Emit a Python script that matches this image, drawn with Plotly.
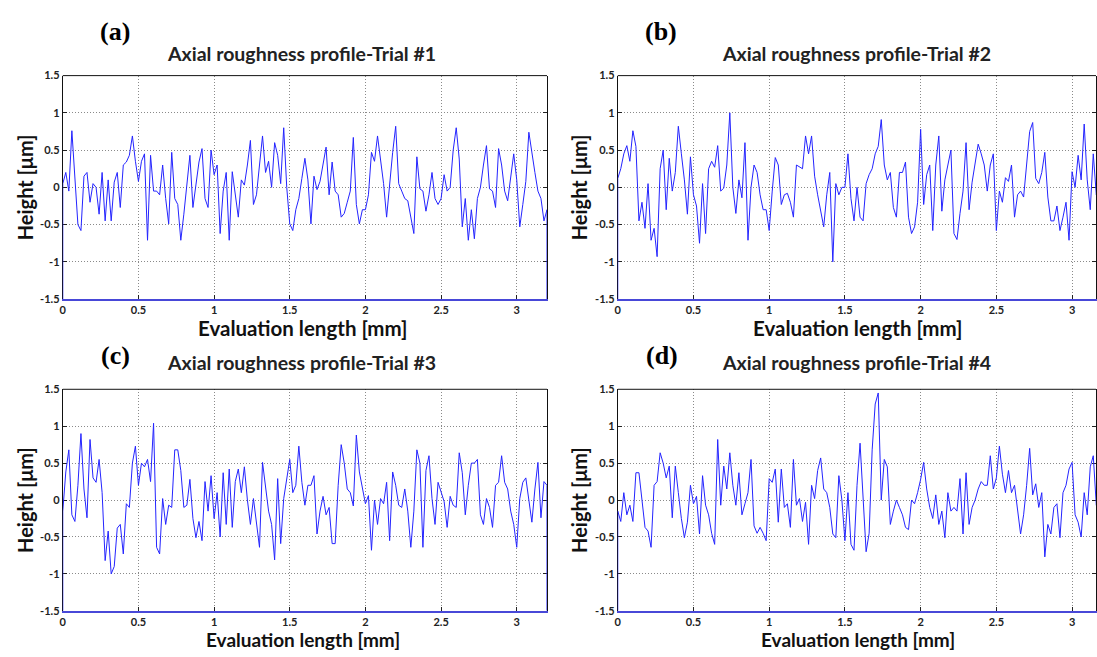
import numpy as np
import plotly.graph_objects as go

# Sampling grid of the profile (mm)
length_mm = np.round(np.arange(161) * 0.02, 2)

# Height values [um], one per 0.02 mm
trial1 = [0.05, 0.2, -0.05, 0.76, 0.17, -0.5, -0.58, 0.15, 0.2, -0.2,
          0.05, 0.0, -0.36, 0.2, -0.45, 0.1, -0.45, 0.07, 0.2, -0.27,
          0.3, 0.34, 0.43, 0.69, 0.35, 0.08, 0.35, 0.45, -0.71, 0.43,
          -0.05, -0.05, -0.1, 0.3, -0.15, -0.49, 0.47, -0.15, -0.23, -0.71,
          -0.36, 0.08, 0.43, -0.27, 0.05, 0.34, 0.52, -0.15, -0.27, 0.5,
          0.17, 0.3, -0.62, -0.05, 0.2, -0.71, 0.21, -0.1, -0.4, 0.1,
          0.03, 0.3, 0.63, -0.23, -0.1, 0.3, 0.69, 0.2, 0.35, 0.0,
          0.6, 0.43, 0.05, 0.8, 0.0, -0.49, -0.58, -0.3, -0.15, 0.12,
          0.39, 0.1, -0.49, 0.15, -0.03, 0.08, 0.3, 0.54, -0.1, 0.34,
          -0.05, -0.1, -0.4, -0.35, -0.2, -0.05, 0.67, -0.23, -0.49, -0.3,
          -0.3, -0.1, 0.47, 0.35, 0.69, 0.4, 0.05, -0.4, 0.08, 0.47,
          0.82, 0.05, -0.05, -0.15, -0.18, -0.4, -0.62, 0.41, -0.02, -0.05,
          -0.32, -0.1, 0.2, -0.15, -0.23, -0.15, 0.17, -0.05, 0.0, 0.5,
          0.8, 0.38, -0.53, -0.15, -0.71, -0.3, -0.69, -0.15, 0.0, 0.3,
          0.56, -0.02, -0.05, -0.27, 0.52, 0.3, -0.05, -0.18, 0.17, 0.45,
          0.1, -0.53, -0.23, 0.08, 0.74, 0.45, 0.2, -0.05, -0.15, -0.45,
          -0.3]

trial2 = [0.12, 0.25, 0.45, 0.56, 0.35, 0.76, 0.55, -0.45, -0.2, -0.55,
          0.05, -0.71, -0.55, -0.93, 0.25, 0.5, -0.3, 0.39, -0.05, 0.2,
          0.82, 0.45, 0.1, -0.36, 0.41, -0.1, -0.25, -0.75, 0.05, -0.62,
          0.25, 0.35, 0.27, 0.56, -0.05, -0.01, 0.3, 1.0, 0.0, -0.35,
          0.1, -0.14, 0.6, -0.71, 0.0, 0.3, 0.2, -0.1, -0.3, -0.3,
          -0.58, -0.05, 0.4, 0.3, -0.23, -0.1, -0.08, -0.2, -0.4, 0.3,
          0.27, 0.25, 0.69, 0.45, 0.69, 0.15, -0.1, -0.3, -0.53, -0.1,
          0.2, -1.0, 0.05, -0.1, 0.0, 0.0, 0.45, -0.15, -0.45, 0.0,
          -0.4, -0.45, 0.05, 0.17, 0.25, 0.45, 0.55, 0.91, 0.3, 0.1,
          0.2, -0.27, -0.4, 0.2, 0.2, 0.34, -0.4, -0.62, -0.53, -0.2,
          0.78, -0.23, 0.17, 0.3, -0.58, 0.3, 0.69, -0.32, 0.1, 0.3,
          0.5, -0.62, -0.7, -0.35, -0.05, 0.6, -0.3, 0.07, 0.35, 0.58,
          0.45, 0.3, -0.05, 0.3, 0.45, -0.58, -0.05, -0.2, 0.13, 0.08,
          0.3, -0.4, -0.1, -0.05, -0.13, 0.3, 0.75, 0.87, 0.12, 0.05,
          0.2, 0.47, -0.13, -0.45, -0.45, -0.25, -0.58, -0.4, -0.2, -0.71,
          0.21, 0.0, 0.43, 0.1, 0.85, 0.1, -0.3, 0.45, -0.1, 0.1,
          0.05]

trial3 = [-0.15, 0.38, 0.68, -0.2, -0.29, 0.2, 0.9, 0.15, -0.24, 0.82,
          0.3, 0.24, 0.55, 0.1, -0.82, -0.42, -1.0, -0.9, -0.38, -0.33,
          -0.73, -0.05, -0.1, 0.5, 0.73, 0.2, 0.5, 0.45, 0.55, 0.25,
          1.04, -0.64, -0.73, 0.02, -0.33, -0.07, -0.1, 0.68, 0.68, 0.4,
          -0.1, -0.07, 0.28, -0.25, -0.51, -0.29, -0.55, 0.25, -0.15, 0.33,
          -0.25, 0.1, -0.5, 0.37, -0.33, 0.42, -0.37, 0.25, 0.42, 0.1,
          0.45, 0.0, -0.33, 0.02, -0.3, -0.64, 0.51, 0.2, -0.15, -0.33,
          -0.81, 0.29, -0.59, 0.02, 0.3, 0.55, 0.1, 0.2, 0.73, 0.24,
          -0.07, 0.2, 0.2, 0.33, -0.46, -0.15, 0.05, -0.2, -0.1, -0.59,
          -0.59, 0.2, 0.75, 0.5, 0.15, 0.1, -0.08, 0.88, 0.38, 0.17,
          -0.05, 0.06, -0.68, 0.0, -0.33, 0.02, -0.05, 0.24, -0.55, 0.38,
          0.2, -0.07, -0.1, 0.15, -0.15, -0.64, -0.15, 0.68, 0.5, -0.64,
          0.4, 0.6, 0.02, -0.33, 0.24, 0.11, -0.02, -0.37, 0.05, -0.07,
          -0.1, 0.64, 0.37, -0.2, 0.2, 0.5, 0.5, 0.55, -0.2, -0.33,
          0.02, -0.1, -0.37, 0.2, 0.24, 0.6, 0.24, 0.15, -0.15, -0.33,
          -0.64, 0.02, 0.24, 0.3, 0.0, -0.3, 0.15, 0.51, -0.24, 0.25,
          0.2]

trial4 = [-0.15, -0.29, 0.1, -0.2, -0.07, -0.29, 0.37, 0.37, -0.02, -0.37,
          -0.42, -0.64, 0.2, 0.25, 0.64, 0.5, 0.3, 0.46, -0.24, 0.46,
          0.1, -0.25, -0.51, -0.3, 0.2, -0.05, 0.05, -0.46, 0.33, -0.07,
          -0.2, -0.45, -0.6, 0.82, -0.07, 0.46, 0.15, 0.64, 0.2, -0.07,
          0.37, -0.2, -0.05, 0.1, 0.55, -0.35, -0.45, -0.37, -0.45, -0.55,
          0.29, 0.24, 0.42, -0.3, 0.42, -0.1, -0.05, -0.37, 0.55, -0.07,
          0.02, -0.29, -0.03, -0.6, 0.2, 0.02, 0.4, 0.57, 0.15, 0.1,
          -0.1, -0.46, -0.51, 0.33, 0.0, -0.55, 0.1, -0.6, -0.68, 0.2,
          0.77, 0.0, -0.7, -0.45, 0.68, 1.3, 1.45, 0.0, 0.55, 0.45,
          -0.33, -0.15, 0.0, -0.1, -0.2, -0.37, -0.4, 0.0, -0.05, 0.1,
          0.28, 0.51, 0.15, -0.1, -0.25, 0.07, -0.33, -0.15, -0.51, 0.1,
          -0.15, -0.1, -0.15, 0.29, -0.46, 0.37, -0.33, -0.1, 0.0, 0.15,
          0.25, 0.2, 0.2, 0.6, 0.15, 0.3, 0.73, 0.35, 0.1, 0.4,
          0.1, 0.2, -0.15, -0.46, -0.2, 0.2, 0.7, 0.07, 0.22, -0.1,
          0.1, -0.77, -0.33, -0.46, -0.1, -0.05, -0.51, 0.1, 0.2, 0.42,
          0.51, -0.2, -0.3, -0.5, 0.1, -0.2, 0.45, 0.6, -0.07, 0.1,
          0.05]

titles = ["Axial roughness profile-Trial #1", "Axial roughness profile-Trial #2",
          "Axial roughness profile-Trial #3", "Axial roughness profile-Trial #4"]
letters = ["(a)", "(b)", "(c)", "(d)"]
x_ticks = [0, 0.5, 1, 1.5, 2, 2.5, 3]
x_tick_text = ["<b>0</b>", "<b>0.5</b>", "<b>1</b>", "<b>1.5</b>", "<b>2</b>", "<b>2.5</b>", "<b>3</b>"]
y_ticks = [-1.5, -1, -0.5, 0, 0.5, 1, 1.5]
y_tick_text = ["<b>-1.5</b>", "<b>-1</b>", "<b>-0.5</b>", "<b>0</b>", "<b>0.5</b>", "<b>1</b>", "<b>1.5</b>"]
x_title = "Evaluation length [mm]"
y_title = "Height [\u03bcm]"

W, H = 1097, 657


def px(x):
    return x / W


def py(y):
    return 1 - y / H


# plot areas in pixels: (left, right, top, bottom), visible x end
areas = [(60, 546, 70, 298, 3.2), (617, 1097, 70, 298, 3.158),
         (60, 546, 390, 616, 3.2), (617, 1097, 390, 616, 3.158)]
series = [trial1, trial2, trial3, trial4]

fig = go.Figure()
BLUE = "#2424ff"
tick_font = dict(family="Lato, Open Sans, sans-serif", size=11, color="#222")

for i, (vals, area) in enumerate(zip(series, areas)):
    l, r, t, b, xend = area
    n = "" if i == 0 else str(i + 1)
    xs = [0.0] + list(length_mm) + [3.2]
    ys = [-1.5] + list(vals) + [-1.5]
    fig.add_trace(go.Scatter(x=xs, y=ys, mode="lines",
                             line=dict(color=BLUE, width=1),
                             xaxis="x" + n, yaxis="y" + n,
                             hoverinfo="skip", showlegend=False))
    fig.layout["xaxis" + n] = dict(
        domain=[px(l), min(px(r), 1.0)], anchor="y" + n, range=[0, xend],
        tickvals=x_ticks, ticktext=x_tick_text, ticks="inside", ticklen=4,
        tickcolor="#222", showline=True, linecolor="#4848d8", linewidth=2,
        mirror=False, showgrid=True, gridcolor="#8a8a8a", griddash="1px,2px",
        gridwidth=1, zeroline=False, tickfont=tick_font, layer="below traces")
    fig.layout["yaxis" + n] = dict(
        domain=[py(b), py(t)], anchor="x" + n, range=[-1.5, 1.5],
        tickvals=y_ticks, ticktext=y_tick_text, ticks="inside", ticklen=4,
        tickcolor="#222", showline=True, linecolor="#111", linewidth=1,
        mirror="ticks", showgrid=True, gridcolor="#8a8a8a", griddash="1px,2px",
        gridwidth=1, zeroline=False, tickfont=tick_font, layer="below traces")
    # top frame line
    fig.add_shape(type="line", xref="x" + n + " domain", yref="y" + n + " domain",
                  x0=0, x1=1, y0=1, y1=1, line=dict(color="#111", width=1))

# text positions (pixels)
title_pos = [(300, 47), (857, 47), (300, 363), (857, 363)]
letter_pos = [(112, 25), (660, 25), (113, 356), (661, 356)]
ytitle_pos = [(22, 184), (578, 184), (22, 503), (578, 503)]
xtitle_pos = [(301, 327), (858, 327), (301, 645), (858, 645)]
xtitle_size = [20.5, 20.5, 19, 19]

sans = "Lato, Open Sans, sans-serif"
for i in range(4):
    fig.add_annotation(x=px(title_pos[i][0]), y=py(title_pos[i][1]), xref="paper", yref="paper",
                       text="<b>" + titles[i] + "</b>", showarrow=False,
                       font=dict(family=sans, size=19.5, color="#222"),
                       xanchor="center", yanchor="middle")
    fig.add_annotation(x=px(letter_pos[i][0]), y=py(letter_pos[i][1]), xref="paper", yref="paper",
                       text="<b>" + letters[i] + "</b>", showarrow=False,
                       font=dict(family="Liberation Serif, serif", size=26, color="#000"),
                       xanchor="center", yanchor="middle")
    fig.add_annotation(x=px(ytitle_pos[i][0]), y=py(ytitle_pos[i][1]), xref="paper", yref="paper",
                       text="<b>" + y_title + "</b>", showarrow=False, textangle=-90,
                       font=dict(family=sans, size=20, color="#111"),
                       xanchor="center", yanchor="middle")
    fig.add_annotation(x=px(xtitle_pos[i][0]), y=py(xtitle_pos[i][1]), xref="paper", yref="paper",
                       text="<b>" + x_title + "</b>", showarrow=False,
                       font=dict(family=sans, size=xtitle_size[i], color="#111"),
                       xanchor="center", yanchor="middle")

fig.update_layout(width=W, height=H, margin=dict(l=0, r=0, t=0, b=0),
                  paper_bgcolor="white", plot_bgcolor="white", showlegend=False)

fig.write_html("out.html")
